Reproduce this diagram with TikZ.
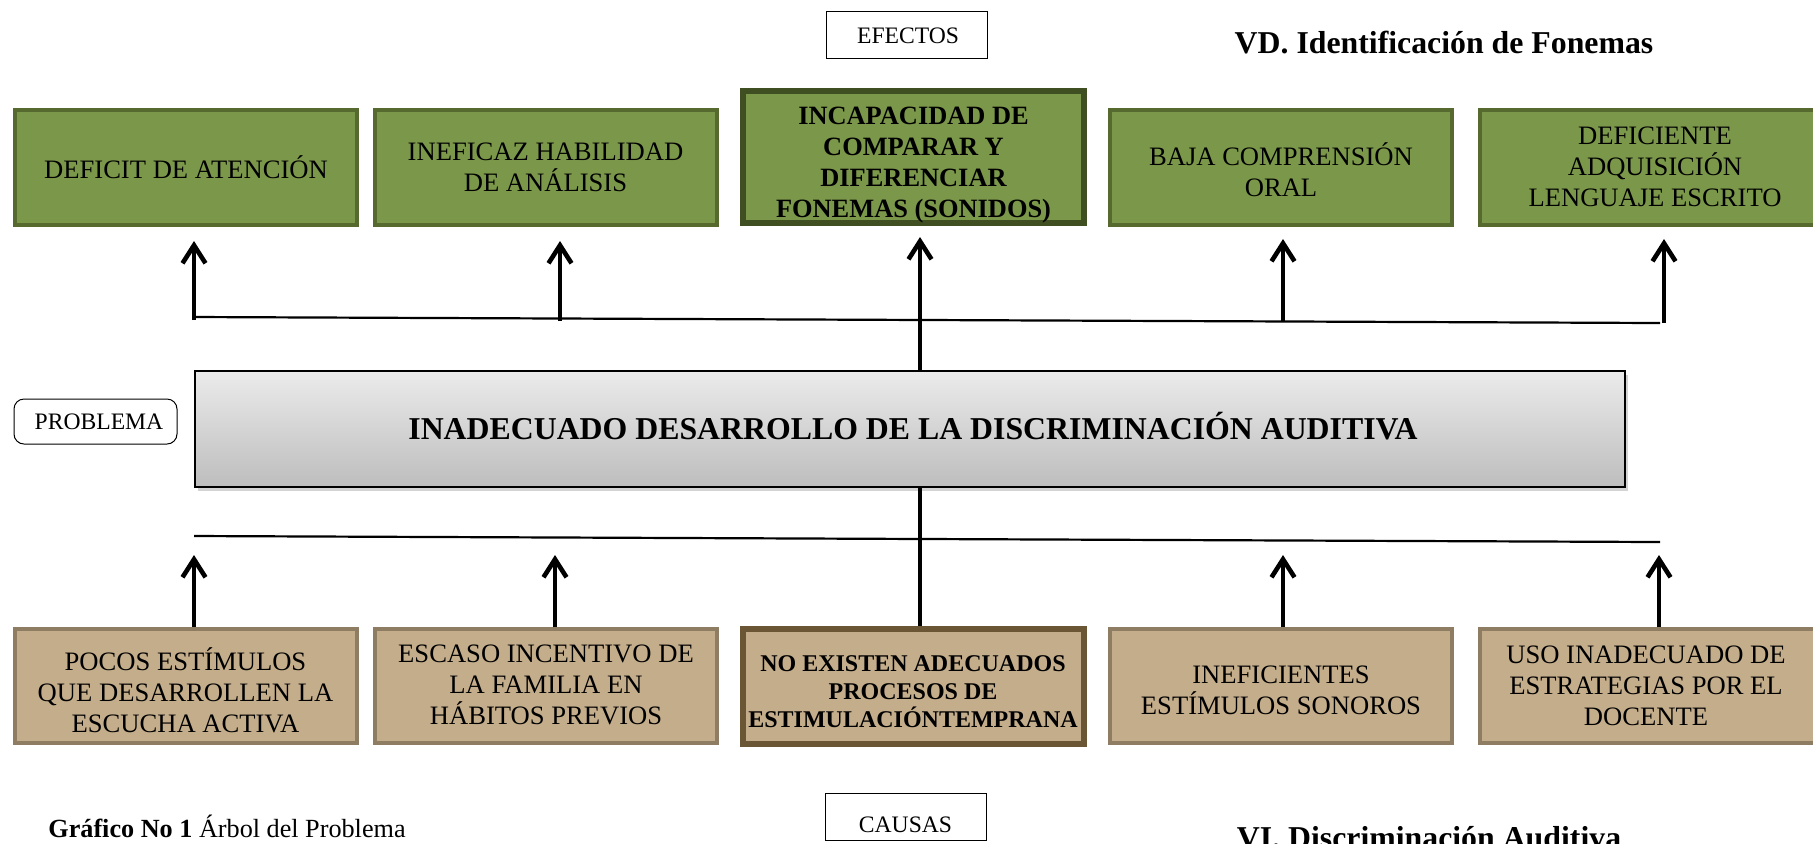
\documentclass[tikz,border=0pt]{standalone}
\usepackage{fontspec}
\setmainfont{Liberation Serif}
\usetikzlibrary{arrows.meta,shadows}
\definecolor{gfill}{HTML}{7B974A}
\definecolor{gdraw}{HTML}{56692F}
\definecolor{gdark}{HTML}{3F4F22}
\definecolor{tfill}{HTML}{C4AD8B}
\definecolor{tdraw}{HTML}{8E7D62}
\definecolor{tdark}{HTML}{6A5535}
\definecolor{ptop}{HTML}{EBEBEB}
\definecolor{pbot}{HTML}{BDBDBD}
\tikzset{
  boxtext/.style={align=center, inner sep=0pt, font=\fontsize{13.3}{15.5}\selectfont},
  effbox/.style={boxtext, rectangle, fill=gfill, draw=gdraw, line width=2pt, minimum width=171pt, minimum height=57.5pt},
  effmain/.style={rectangle, fill=gfill, draw=gdark, line width=3pt, minimum width=170.5pt, minimum height=66pt, inner sep=0pt},
  caubox/.style={boxtext, rectangle, fill=tfill, draw=tdraw, line width=2pt, minimum width=171pt, minimum height=57pt},
  caumain/.style={rectangle, fill=tfill, draw=tdark, line width=3pt, minimum width=170.5pt, minimum height=57.5pt, inner sep=0pt},
  labbox/.style={rectangle, draw=black, line width=0.5pt, minimum width=80.5pt, minimum height=23.5pt, inner sep=0pt},
  labtext/.style={inner sep=0pt, font=\fontsize{11.8}{14}\selectfont},
  titletext/.style={inner sep=0pt, font=\fontsize{15.9}{18}\selectfont\bfseries},
  arr/.style={line width=2.3pt, -{Straight Barb[length=9pt,width=11.5pt]}},
  plainline/.style={line width=2.3pt},
  hline/.style={line width=1.1pt},
}
\begin{document}
\begin{tikzpicture}[x=0.5pt,y=-0.5pt]
\useasboundingbox (0,0) rectangle (1813,843);

% labels
\node[labbox] (efectos) at (906.5,34.5) {};
\node[labtext] (efectost) at (908,35.5) {EFECTOS};
\node[labbox] (causas) at (905.5,816.5) {};
\node[labtext] (causast) at (905.5,824.5) {CAUSAS};
\node[labbox, rounded corners=5pt, minimum width=81.5pt, minimum height=22.5pt] (problema) at (95.5,421.5) {};
\node[labtext] (problemat) at (99,422) {PROBLEMA};

% titles
\node[titletext, anchor=base] (vd) at (1444,53) {VD. Identificación de Fonemas};
\node[titletext, anchor=base] (vi) at (1429,848) {VI. Discriminación Auditiva};
\node[anchor=base west, inner sep=0pt, font=\fontsize{13.1}{15}\selectfont] (caption) at (48,837) {\textbf{Gráfico No 1} Árbol del Problema};

% effects
\node[effbox] (e1) at (186,167.5) {DEFICIT DE ATENCIÓN};
\node[effbox] (e2) at (545.5,167.5) {INEFICAZ HABILIDAD\\DE ANÁLISIS};
\node[effmain] (e3) at (913.5,157) {};
\node[boxtext, font=\fontsize{13.2}{15.5}\selectfont\bfseries] (e3t) at (913.5,165) {INCAPACIDAD DE\\COMPARAR Y\\DIFERENCIAR\\FONEMAS (SONIDOS)};
\node[effbox] (e4) at (1281,167.5) {};
\node[boxtext] (e4t) at (1281,169.5) {BAJA COMPRENSIÓN\\ORAL};
\node[effbox] (e5) at (1651,167.5) {};
\node[boxtext] (e5t) at (1655,166.5) {DEFICIENTE\\ADQUISICIÓN\\LENGUAJE ESCRITO};

% problem
\node[rectangle, draw=black, line width=1pt, top color=ptop, bottom color=pbot,
      minimum width=715pt, minimum height=58pt, inner sep=0pt,
      drop shadow={shadow xshift=1.5pt, shadow yshift=-2pt, opacity=0.35}] (p) at (909.5,429) {};
\node[titletext, anchor=base] (pt) at (913,439) {INADECUADO DESARROLLO DE LA DISCRIMINACIÓN AUDITIVA};

% causes
\node[caubox] (c1) at (185.5,686) {};
\node[boxtext] (c1t) at (185.5,690) {POCOS ESTÍMULOS\\QUE DESARROLLEN LA\\ESCUCHA ACTIVA};
\node[caubox] (c2) at (546,686) {};
\node[boxtext] (c2t) at (546,685) {ESCASO INCENTIVO DE\\LA FAMILIA EN\\HÁBITOS PREVIOS};
\node[caumain] (c3) at (913,686.5) {};
\node[boxtext, font=\fontsize{12}{13.9}\selectfont\bfseries] (c3t) at (913,691.5) {NO EXISTEN ADECUADOS\\PROCESOS DE\\ESTIMULACIÓNTEMPRANA};
\node[caubox] (c4) at (1281,686) {};
\node[boxtext] (c4t) at (1281,690) {INEFICIENTES\\ESTÍMULOS SONOROS};
\node[caubox] (c5) at (1651,686) {};
\node[boxtext] (c5t) at (1646,685.5) {USO INADECUADO DE\\ESTRATEGIAS POR EL\\DOCENTE};

% coordinates of connectors
\coordinate (tl) at (194,317);
\coordinate (tr) at (1660,323);
\coordinate (bl) at (194,536);
\coordinate (br) at (1660,542);
\coordinate (ta1) at (194,320);   \coordinate (tt1) at (194,241);
\coordinate (ta2) at (560,321);   \coordinate (tt2) at (560,241);
\coordinate (tt3) at (920,237);
\coordinate (ta4) at (1283,322);  \coordinate (tt4) at (1283,239);
\coordinate (ta5) at (1664,323);  \coordinate (tt5) at (1664,239);
\coordinate (bt1) at (194,555);
\coordinate (bt2) at (555,555);
\coordinate (bc) at (920,0);
\coordinate (bt4) at (1283,555);
\coordinate (bt5) at (1659,555);

% effect side
\draw[hline] (tl) -- (tr);
\draw[arr] (ta1) -- (tt1);
\draw[arr] (ta2) -- (tt2);
\draw[arr] (p.north -| tt3) -- (tt3);
\draw[arr] (ta4) -- (tt4);
\draw[arr] (ta5) -- (tt5);

% cause side
\draw[hline] (bl) -- (br);
\draw[plainline] (p.south -| bc) -- (c3.north -| bc);
\draw[arr] (c1.north -| bt1) -- (bt1);
\draw[arr] (c2.north -| bt2) -- (bt2);
\draw[arr] (c4.north -| bt4) -- (bt4);
\draw[arr] (c5.north -| bt5) -- (bt5);
\end{tikzpicture}
\end{document}
